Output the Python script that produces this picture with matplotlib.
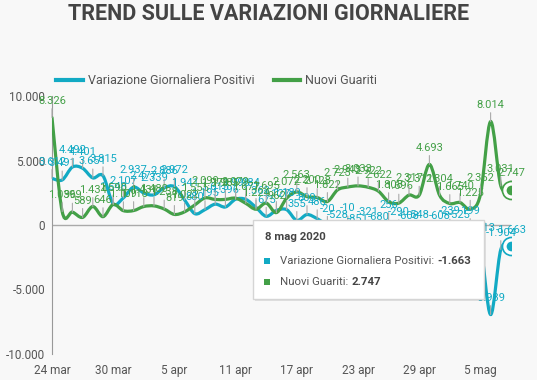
import numpy as np
import matplotlib.pyplot as plt
from matplotlib.path import Path
from matplotlib.patches import PathPatch, FancyBboxPatch, Rectangle
from matplotlib.lines import Line2D

plt.rcParams['font.family'] = ['Roboto', 'DejaVu Sans']

# dati giornalieri 24 mar - 8 mag 2020
positivi = [3612, 3491, 4492, 4401, 3651, 3815, 1648, 2107,
            2937, 2477, 2339, 2886, 2972, 1941, 880, 1195, 1615, 1396,
            1996, 1984, 1363, 675, 1127, 1189, 355, 809, 486, -20,
            -528, -10, -851, -321, -680, 256, -290, -608, -548, -3106,
            -608, -239, -525, -199, -1513, -6939, -1904, -1663]
guariti = [8326, 1036, 999, 589, 1434, 646, 1590, 1109,
           1118, 1431, 1480, 1238, 819, 1022, 1555, 2099, 1979, 1985,
           2079, 1677, 1224, 1695, 962, 2072, 2563, 2200, 2128, 1822,
           2723, 2943, 3033, 2922, 2622, 1808, 1696, 2317, 2311, 4693,
           2304, 1665, 1740, 1225, 2352, 8014, 3031, 2747]
tick_pos = [0, 6, 12, 18, 24, 30, 36, 42]
tick_lab = ['24 mar', '30 mar', '5 apr', '11 apr', '17 apr', '23 apr', '29 apr', '5 mag']
y_ticks = [10000, 5000, 0, -5000, -10000]

ciano = '#12aac4'
verde = '#43a047'
bg = '#f8f8f8'


def fmt(v):
    return f"{v:,}".replace(',', '.')


def curva(xs, ys):
    x = np.asarray(xs, float)
    y = np.asarray(ys, float)
    n = len(x)
    verts = [(x[0], y[0])]
    codes = [Path.MOVETO]
    for i in range(n - 1):
        xa, ya = (x[i - 1], y[i - 1]) if i > 0 else (x[i], y[i])
        xb, yb = (x[i + 2], y[i + 2]) if i < n - 2 else (x[i + 1], y[i + 1])
        c1 = (x[i] + (x[i + 1] - xa) / 6, y[i] + (y[i + 1] - ya) / 6)
        c2 = (x[i + 1] - (xb - x[i]) / 6, y[i + 1] - (yb - y[i]) / 6)
        verts += [c1, c2, (x[i + 1], y[i + 1])]
        codes += [Path.CURVE4] * 3
    return Path(verts, codes)


fig = plt.figure(figsize=(5.37, 3.80), dpi=100, facecolor=bg)
ax = fig.add_axes([52 / 537, 26 / 380, 459 / 537, 258 / 380], facecolor=bg)

xs = np.arange(len(positivi))
for serie, col in [(positivi, ciano), (guariti, verde)]:
    ax.add_patch(PathPatch(curva(xs, serie), facecolor='none', edgecolor=col,
                           lw=2.3, capstyle='round', zorder=3))
    for i, v in enumerate(serie):
        ax.annotate(fmt(v), (i, v), xytext=(0, 12), textcoords='offset points',
                    ha='center', va='center', fontsize=8, color=col, zorder=4,
                    arrowprops=dict(arrowstyle='-', color='#aaaaaa', lw=0.8,
                                    shrinkA=0, shrinkB=0))

# marker ultimo punto
for serie, col in [(positivi, ciano), (guariti, verde)]:
    ax.plot(xs[-1], serie[-1], 'o', ms=13, mfc='white', mec=col, mew=1.2, zorder=5)
    ax.plot(xs[-1], serie[-1], 'o', ms=8, mfc=col, mec='white', mew=1.0, zorder=6)

ax.axhline(0, color='#aaaaaa', lw=1, zorder=2)
ax.set_xlim(0, len(positivi) - 1)
ax.set_ylim(-10000, 10000)
ax.set_xticks(tick_pos)
ax.set_xticklabels(tick_lab)
ax.set_yticks(y_ticks)
ax.set_yticklabels([fmt(v) for v in y_ticks])
ax.tick_params(length=0, labelsize=8.5, labelcolor='#555555')
ax.tick_params(axis='x', pad=7)
ax.tick_params(axis='y', pad=5)
for s in ['top', 'right', 'bottom']:
    ax.spines[s].set_visible(False)
ax.spines['left'].set_color('#999999')

fig.text(0.5, 1 - 14 / 380, 'TREND SULLE VARIAZIONI GIORNALIERE', ha='center', va='center',
         fontsize=15.5, fontweight='bold', color='#444444')

handles = [Line2D([], [], color=ciano, lw=3), Line2D([], [], color=verde, lw=3)]
fig.legend(handles, ['Variazione Giornaliera Positivi', 'Nuovi Guariti'],
           loc='center left', bbox_to_anchor=(45 / 537, 1 - 81 / 380), ncol=2,
           frameon=False, fontsize=9, handlelength=2.1, handletextpad=0.45,
           columnspacing=1.5, labelcolor='#555555')

# tooltip
sh = FancyBboxPatch((255 / 537, (380 - 301) / 380), 231 / 537, 79 / 380,
                    boxstyle='square,pad=0', transform=fig.transFigure,
                    facecolor='#00000018', edgecolor='none', zorder=9)
fig.patches.append(sh)
box = FancyBboxPatch((253 / 537, (380 - 299) / 380), 231 / 537, 79 / 380,
                     boxstyle='square,pad=0', transform=fig.transFigure,
                     facecolor='white', edgecolor='#d5d5d5', lw=1, zorder=10)
fig.patches.append(box)
fig.text(265 / 537, 1 - 237 / 380, '8 mag 2020', fontsize=8.2, fontweight='bold',
         color='#444444', va='center', zorder=11)
righe = [('Variazione Giornaliera Positivi: ', fmt(positivi[-1]), ciano, 261),
         ('Nuovi Guariti: ', fmt(guariti[-1]), verde, 282)]
fig.canvas.draw()
r = fig.canvas.get_renderer()
for lab, val, col, yy in righe:
    fig.patches.append(Rectangle((264 / 537, 1 - (yy + 3) / 380), 6 / 537, 6 / 380,
                                 transform=fig.transFigure, facecolor=col,
                                 edgecolor='none', zorder=11))
    t = fig.text(280 / 537, 1 - yy / 380, lab, fontsize=8.2, color='#555555',
                 va='center', zorder=11)
    bb = t.get_window_extent(r)
    fig.text(bb.x1 / fig.bbox.width, 1 - yy / 380, val, fontsize=8.2,
             fontweight='bold', color='#444444', va='center', zorder=11)

fig.savefig('out.png', dpi=100, facecolor=bg)
